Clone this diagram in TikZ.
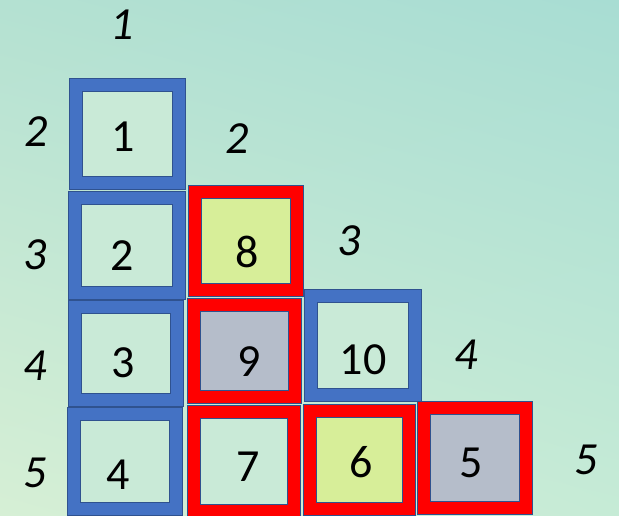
\documentclass[tikz,border=0pt]{standalone}
\usepackage{fontspec}
\setmainfont{Carlito}
\usepackage{xcolor}
\usepackage{tikz}
\usetikzlibrary{positioning,calc,shadings}
\definecolor{FrameBlue}{HTML}{4472C4}
\definecolor{FrameRed}{HTML}{FF0000}
\definecolor{EdgeBlue}{HTML}{2F528F}
\definecolor{CellMint}{HTML}{C9EAD7}
\definecolor{CellLime}{HTML}{D7EE99}
\definecolor{CellGrey}{HTML}{B5BDCA}
\definecolor{BgTL}{HTML}{B4E1D2}
\definecolor{BgTR}{HTML}{A8DDD3}
\definecolor{BgBL}{HTML}{D6EFD5}
\definecolor{BgBR}{HTML}{C6EBD6}

\begin{document}
\begin{tikzpicture}[x=1pt,y=-1pt,
  cell/.style={rectangle,draw=EdgeBlue,line width=1.2pt,double distance=11.6pt,
               inner sep=0pt,minimum width=#1},
  bluecell/.style={cell=102pt,double=FrameBlue},
  redcell/.style={cell=102pt,double=FrameRed},
  num/.style={font=\fontsize{46}{50}\selectfont,inner sep=0pt},
  idx/.style={font=\fontsize{46}{50}\selectfont\itshape,inner sep=0pt}]
\useasboundingbox (0,0) rectangle (619,515);
\shade[upper left=BgTL,upper right=BgTR,lower left=BgBL,lower right=BgBR]
  (0,0) rectangle (619,515);

% column 1
\node[bluecell,fill=CellMint,minimum width=103pt,minimum height=98pt] (n1) at (127.5,134) {};
\node[bluecell,fill=CellMint,minimum width=104pt,minimum height=95pt] (n2) at (127,245.5) {};
\node[bluecell,fill=CellMint,minimum width=102pt,minimum height=93pt] (n3) at (126,353.5) {};
\node[bluecell,fill=CellMint,minimum width=102pt,minimum height=95pt] (n4) at (125,461.5) {};
% column 2
\node[redcell,fill=CellLime,minimum width=102pt,minimum height=98pt] (n8) at (246,241) {};
\node[redcell,fill=CellGrey,minimum width=101pt,minimum height=92pt] (n9) at (244.5,351) {};
\node[redcell,fill=CellMint,minimum width=100pt,minimum height=99pt] (n7) at (244,461.5) {};
% column 3
\node[bluecell,fill=CellMint,minimum width=104pt,minimum height=99pt] (n10) at (363,345.5) {};
\node[redcell,fill=CellLime,minimum width=99pt,minimum height=98pt] (n6) at (359.5,460) {};
% column 4
\node[redcell,fill=CellGrey,minimum width=102pt,minimum height=100pt] (n5) at (475,458) {};

% numbers in the cells
\node[num] (t1) at (123,137) {1};
\node[num] (t2) at (122,256) {2};
\node[num] (t3) at (123,363) {3};
\node[num] (t4) at (118,475) {4};
\node[num] (t8) at (247,252) {8};
\node[num] (t9) at (249,362) {9};
\node[num] (t10) at (363,360) {10};
\node[num] (t7) at (248,467) {7};
\node[num] (t6) at (361,462) {6};
\node[num] (t5) at (471,463) {5};

% row and column indices
\node[idx] (c1) at (122,25) {1};
\node[idx] (c2) at (237,139) {2};
\node[idx] (c3) at (349,241) {3};
\node[idx] (c4) at (466,355) {4};
\node[idx] (c5) at (586,460) {5};
\node[idx] (r2) at (36,132) {2};
\node[idx] (r3) at (35,255) {3};
\node[idx] (r4) at (35,366) {4};
\node[idx] (r5) at (35,473) {5};
\end{tikzpicture}
\end{document}
